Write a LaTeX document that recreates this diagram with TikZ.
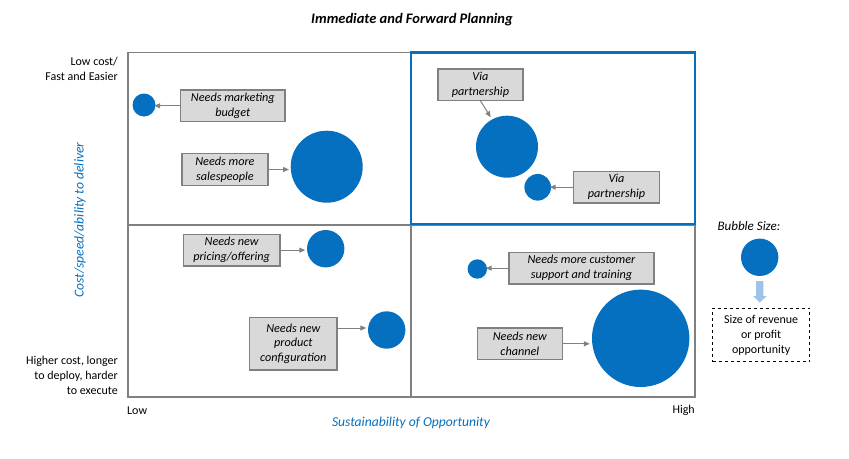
\documentclass[tikz,border=0pt]{standalone}
\usepackage{fontspec}
\setmainfont{Carlito}
\usetikzlibrary{arrows.meta}
\definecolor{bblue}{HTML}{0570C0}
\definecolor{boxgrey}{HTML}{D9D9D9}
\definecolor{edgegrey}{HTML}{808080}
\definecolor{lblue}{HTML}{9DC3E6}
\tikzset{
  bubble/.style={circle, fill=bblue, draw=none, inner sep=0pt, minimum size=#1},
  labelbox/.style={draw=edgegrey, line width=1.3pt, fill=boxgrey, font=\fontsize{12.2}{14.8}\selectfont\itshape, align=center, inner sep=0pt, anchor=north west},
  pointer/.style={draw=edgegrey, line width=1pt, -{Triangle[length=6pt,width=5pt]}},
  gridline/.style={draw=edgegrey, line width=1.3pt},
  axistext/.style={font=\fontsize{12}{15}\selectfont},
  bluelabel/.style={font=\fontsize{13.6}{16}\selectfont\itshape, text=bblue},
}
\begin{document}
\begin{tikzpicture}[x=1pt,y=-1pt]
\useasboundingbox (0,0) rectangle (849,458);
% grid
\draw[gridline] (128,52.5) rectangle (695,397);
\draw[gridline] (128,225) -- (695,225);
\draw[edgegrey, line width=2.4pt] (411,225) -- (411,397);
\draw[bblue, line width=2.6pt] (411,52.5) rectangle (695,224);
% title
\node[font=\fontsize{14.5}{16}\selectfont\bfseries\itshape] (title) at (412,19.5) {Immediate and Forward Planning};
% axis texts
\node[axistext, align=right, anchor=north east, inner sep=0pt] (lowcost) at (118,56.5) {Low cost/\\Fast and Easier};
\node[axistext, align=right, anchor=north east, inner sep=0pt] (highcost) at (118,356) {Higher cost, longer\\to deploy, harder\\to execute};
\node[axistext, anchor=west, inner sep=0pt] (low) at (127,410.5) {Low};
\node[axistext, anchor=east, inner sep=0pt] (high) at (695,410.5) {High};
\node[bluelabel] (xlabel) at (411,423) {Sustainability of Opportunity};
\node[bluelabel, rotate=90] (ylabel) at (80,220) {Cost/speed/ability to deliver};
% bubbles
\node[bubble=23pt] (b1) at (144,105) {};
\node[bubble=72pt] (b2) at (326.7,166.7) {};
\node[bubble=62pt] (b3) at (507,146.7) {};
\node[bubble=26.6pt] (b4) at (537.7,187.3) {};
\node[bubble=37.4pt] (b5) at (325.7,248.7) {};
\node[bubble=37.4pt] (b6) at (386.7,330) {};
\node[bubble=19.4pt] (b7) at (477.3,269) {};
\node[bubble=97.4pt] (b8) at (640.7,338.3) {};
\node[bubble=37.4pt] (b9) at (759.7,257.3) {};
% label boxes
\node[labelbox, minimum width=104.3pt, minimum height=31.7pt] (t1) at (180,89.3) {Needs marketing\\budget};
\node[labelbox, minimum width=86pt, minimum height=31.7pt] (t2) at (181.3,153) {Needs more\\salespeople};
\node[labelbox, minimum width=85pt, minimum height=31.4pt] (t3) at (437.3,68.3) {Via\\partnership};
\node[labelbox, minimum width=85.7pt, minimum height=31.6pt] (t4) at (573,170.7) {Via\\partnership};
\node[labelbox, minimum width=96.6pt, minimum height=31.6pt] (t5) at (182.7,233.7) {Needs new\\pricing/offering};
\node[labelbox, minimum width=87.3pt, minimum height=52.6pt] (t6) at (249,316.7) {Needs new\\product\\configuration};
\node[labelbox, minimum width=145pt, minimum height=31.6pt] (t7) at (508.3,251.7) {Needs more customer\\support and training};
\node[labelbox, minimum width=85pt, minimum height=31.7pt] (t8) at (476.7,327.3) {Needs new\\channel};
% pointers
\draw[pointer] (t1.west) -- ([xshift=-1.5pt]t1.west -| b1.east);
\draw[pointer] (t2.east) -- ([xshift=-1.5pt]t2.east -| b2.west);
\coordinate (p3s) at (480,100);
\coordinate (p3e) at (490.7,117.3);
\draw[pointer] (p3s) -- (p3e);
\draw[pointer] (t4.west) -- ([xshift=-1.5pt]t4.west -| b4.east);
\draw[pointer] (t5.east) -- ([xshift=-1.5pt]t5.east -| b5.west);
\draw[pointer] ([yshift=2pt]b6.west -| t6.east) -- ([xshift=-1.5pt,yshift=2pt]b6.west);
\draw[pointer] (t7.west) -- ([xshift=-1.5pt]t7.west -| b7.east);
\draw[pointer] (t8.east) -- ([xshift=-2pt]t8.east -| b8.west);
% legend
\node[font=\fontsize{13}{15}\selectfont\itshape] (bsize) at (749,226) {Bubble Size:};
\fill[lblue] (756,281) -- (763.3,281) -- (763.3,296) -- (766.7,296) -- (759.7,302.5) -- (753,296) -- (756,296) -- cycle;
\node[draw=black, dashed, line width=1pt, minimum width=97.3pt, minimum height=53.6pt, inner sep=0pt, align=center, anchor=north west, font=\fontsize{12}{15}\selectfont] (legendbox) at (712,307.7) {Size of revenue\\or profit\\opportunity};
\end{tikzpicture}
\end{document}
